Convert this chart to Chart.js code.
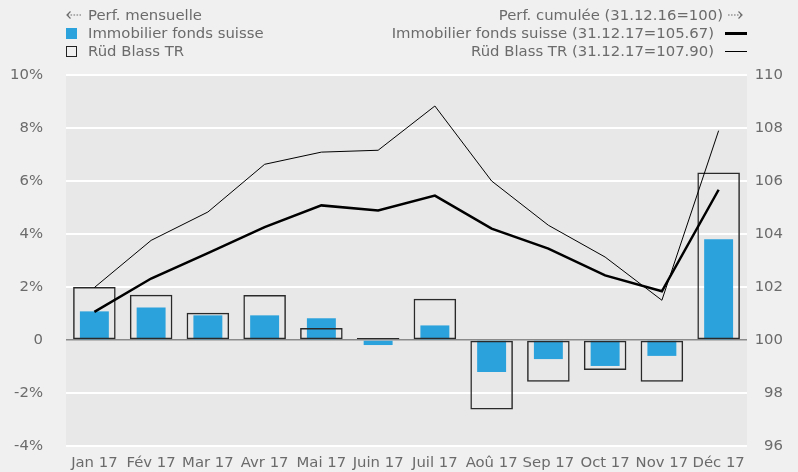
<!DOCTYPE html>
<html>
<head>
<meta charset="utf-8">
<script src="https://cdn.jsdelivr.net/npm/chart.js@4/dist/chart.umd.min.js"></script>
<style>
  body { margin: 0; background: #f0f0f0; font-family: "DejaVu Sans", Verdana, sans-serif; }
  #wrap { position: relative; width: 798px; height: 472px; }
  canvas { position: absolute; left: 0; top: 0; }
  .lg { position: absolute; font-size: 14.85px; color: #6b6b6b; white-space: nowrap; line-height: 18px; }
  .sq { position: absolute; width: 11px; height: 11px; box-sizing: border-box; }
  .ln { position: absolute; background: #000; }
  svg.arr { position: absolute; }
</style>
</head>
<body>
<div id="wrap">
  <canvas id="chart" width="798" height="472"></canvas>

  <!-- légende gauche -->
  <svg class="arr" style="left:66px; top:9px;" width="15" height="12">
    <path d="M4.5 2.5 L1 6 L4.5 9.5" fill="none" stroke="#6b6b6b" stroke-width="1.2"/>
    <line x1="1.5" y1="6" x2="15" y2="6" stroke="#6b6b6b" stroke-width="1.2" stroke-dasharray="1.6 1.4"/>
  </svg>
  <div class="lg" style="left:88px; top:6px;">Perf. mensuelle</div>
  <div class="sq" style="left:66px; top:28px; background:#2ba2dc;"></div>
  <div class="lg" style="left:88px; top:24px;">Immobilier fonds suisse</div>
  <div class="sq" style="left:66px; top:46px; border:1.5px solid #222;"></div>
  <div class="lg" style="left:88px; top:42px;">Rüd Blass TR</div>

  <!-- légende droite -->
  <div class="lg" style="right:75px; top:6px;">Perf. cumulée (31.12.16=100)</div>
  <svg class="arr" style="left:728px; top:9px;" width="15" height="12">
    <line x1="0" y1="6" x2="13.5" y2="6" stroke="#6b6b6b" stroke-width="1.2" stroke-dasharray="1.6 1.4"/>
    <path d="M10.5 2.5 L14 6 L10.5 9.5" fill="none" stroke="#6b6b6b" stroke-width="1.2"/>
  </svg>
  <div class="lg" style="right:84px; top:24px;">Immobilier fonds suisse (31.12.17=105.67)</div>
  <div class="ln" style="left:725px; top:32px; width:22px; height:2.5px;"></div>
  <div class="lg" style="right:84px; top:42px;">Rüd Blass TR (31.12.17=107.90)</div>
  <div class="ln" style="left:725px; top:51px; width:22px; height:1px;"></div>
</div>

<script>
// Données
const months = ['Jan 17', 'Fév 17', 'Mar 17', 'Avr 17', 'Mai 17', 'Juin 17', 'Juil 17', 'Aoû 17', 'Sep 17', 'Oct 17', 'Nov 17', 'Déc 17'];

// Performance mensuelle (%)
const immoMonthly = [1.08, 1.23, 0.93, 0.93, 0.82, -0.19, 0.55, -1.21, -0.72, -0.98, -0.60, 3.80];
const rudMonthly = [2.00, 1.71, 1.03, 1.70, 0.45, 0.08, 1.56, -2.62, -1.58, -1.13, -1.58, 6.32];

// Performance cumulée (31.12.16 = 100)
const immoCumul = [101.06, 102.32, 103.28, 104.26, 105.08, 104.89, 105.45, 104.20, 103.45, 102.44, 101.84, 105.67];
const rudCumul = [101.98, 103.76, 104.83, 106.63, 107.09, 107.16, 108.83, 106.00, 104.33, 103.13, 101.50, 107.90];

// Graduations
const leftTicks = [-4, -2, 0, 2, 4, 6, 8, 10];
const rightTicks = [96, 98, 100, 102, 104, 106, 108, 110];

const textColor = '#6b6b6b';
const font = { family: '"DejaVu Sans", Verdana, sans-serif', size: 14.85 };

// fond de la zone de tracé
const plotBg = {
    id: 'plotBg',
    beforeDraw(chart) {
        const { ctx, chartArea: a } = chart;
        ctx.save();
        ctx.fillStyle = '#e8e8e8';
        ctx.fillRect(a.left, a.top, a.right - a.left, a.bottom - a.top);
        ctx.restore();
    }
};

// le padding des étiquettes ne doit pas rogner la zone de tracé
function fixY(width) {
    return scale => {
        scale.width = width;
        scale.paddingTop = 0;
        scale.paddingBottom = 0;
    };
}

new Chart(document.getElementById('chart'), {
    data: {
        labels: months,
        datasets: [
            {
                type: 'line',
                label: 'Immobilier fonds suisse cumul',
                data: immoCumul,
                yAxisID: 'y2',
                borderColor: '#000',
                borderWidth: 2.5,
                pointRadius: 0,
                tension: 0,
                order: 1
            },
            {
                type: 'line',
                label: 'Rüd Blass TR cumul',
                data: rudCumul,
                yAxisID: 'y2',
                borderColor: '#000',
                borderWidth: 1,
                pointRadius: 0,
                tension: 0,
                order: 0
            },
            {
                type: 'bar',
                label: 'Rüd Blass TR',
                data: rudMonthly,
                yAxisID: 'y',
                backgroundColor: 'rgba(0,0,0,0)',
                borderColor: '#2a2a2a',
                borderWidth: 1.5,
                borderSkipped: false,
                grouped: false,
                barPercentage: 0.75,
                categoryPercentage: 1,
                order: 2
            },
            {
                type: 'bar',
                label: 'Immobilier fonds suisse',
                data: immoMonthly,
                yAxisID: 'y',
                backgroundColor: '#2ba2dc',
                borderWidth: 0,
                grouped: false,
                barPercentage: 0.51,
                categoryPercentage: 1,
                order: 3
            }
        ]
    },
    options: {
        responsive: false,
        animation: false,
        devicePixelRatio: 1,
        layout: { padding: { top: 75, right: 15, left: 0, bottom: 0 } },
        plugins: {
            legend: { display: false },
            tooltip: { enabled: false }
        },
        scales: {
            x: {
                grid: { display: false, drawTicks: false },
                border: { display: false },
                ticks: { color: textColor, font: font, padding: 8, maxRotation: 0, autoSkip: false },
                afterFit(scale) { scale.height = 26; }
            },
            y: {
                position: 'left',
                min: -4,
                max: 10,
                afterBuildTicks(scale) { scale.ticks = leftTicks.map(v => ({ value: v })); },
                grid: {
                    drawTicks: false,
                    color: c => c.tick && c.tick.value === 0 ? '#8a8a8a' : '#ffffff',
                    lineWidth: c => c.tick && c.tick.value === 0 ? 1.5 : 2
                },
                border: { display: false },
                ticks: {
                    color: textColor,
                    font: font,
                    padding: 23,
                    callback: v => v === 0 ? '0' : v + '%'
                },
                afterFit: fixY(66)
            },
            y2: {
                position: 'right',
                min: 96,
                max: 110,
                afterBuildTicks(scale) { scale.ticks = rightTicks.map(v => ({ value: v })); },
                grid: { display: false, drawTicks: false },
                border: { display: false },
                ticks: { color: textColor, font: font, padding: 10, crossAlign: 'far' },
                afterFit: fixY(36)
            }
        }
    },
    plugins: [plotBg]
});
</script>
</body>
</html>
